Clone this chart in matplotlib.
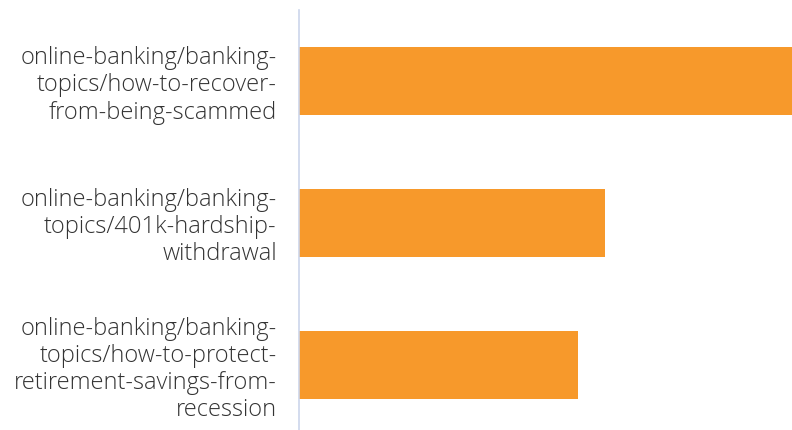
import matplotlib

matplotlib.use("Agg")
import matplotlib.pyplot as plt

CATEGORIES = [
    "online-banking/banking-\ntopics/how-to-recover-\nfrom-being-scammed",
    "online-banking/banking-\ntopics/401k-hardship-\nwithdrawal",
    "online-banking/banking-\ntopics/how-to-protect-\nretirement-savings-from-\nrecession",
]
VALUES = [100, 62, 56.5]

BAR_COLOR = "#f7992b"
AXIS_COLOR = "#ccd6eb"

fig = plt.figure(figsize=(7.92, 4.30), dpi=100)
ax = fig.add_axes([299 / 792, 0, 1 - 299 / 792, 1 - 10 / 430])

y = range(len(CATEGORIES))
ax.barh(list(y), VALUES, height=0.48, color=BAR_COLOR)
ax.set_xlim(0, max(VALUES))
ax.set_ylim(2.46, -0.5)

ax.set_yticks(list(y))
ax.set_yticklabels(CATEGORIES, family=["Open Sans", "DejaVu Sans"], fontweight="light",
                   fontsize=17, color="#333333", linespacing=1.17)
ax.tick_params(axis="y", length=0, pad=16)
ax.set_xticks([])

for side in ("top", "right", "bottom"):
    ax.spines[side].set_visible(False)
ax.spines["left"].set_color(AXIS_COLOR)
ax.spines["left"].set_linewidth(1.2)

fig.savefig("out.png", dpi=100)
